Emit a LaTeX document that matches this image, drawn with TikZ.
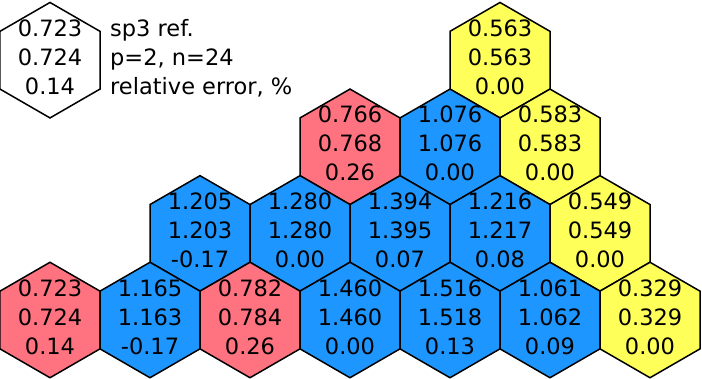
\documentclass[tikz,border=0pt]{standalone}
\usepackage{fontspec}
\setmainfont{DejaVu Sans}
\usetikzlibrary{shapes.geometric}
\definecolor{cred}{RGB}{255,115,128}
\definecolor{cblue}{RGB}{30,150,255}
\definecolor{cyel}{RGB}{255,255,90}
\tikzset{
  hexcell/.style={regular polygon, regular polygon sides=6, shape border rotate=30,
    minimum size=115.47pt, inner sep=0pt, outer sep=0pt, draw=black,
    line width=1.5pt, line join=miter},
  val/.style={anchor=base, inner sep=0pt, font=\fontsize{22.5}{26}\selectfont},
  leg/.style={anchor=base west, inner sep=0pt, font=\fontsize{22.5}{26}\selectfont}
}
\newcommand{\hexcell}[7]{%
  \node[hexcell, fill=#4] (#1) at (#2,#3) {};
  \node[val] (#1a) at ([yshift=24pt]#1.center) {#5};
  \node[val] (#1b) at ([yshift=-5pt]#1.center) {#6};
  \node[val] (#1c) at ([yshift=-34pt]#1.center) {#7};
}
\begin{document}
\begin{tikzpicture}[x=1pt,y=-1pt]
\useasboundingbox (0,0) rectangle (702,378);
% legend
\hexcell{L}{50}{60.2}{white}{0.723}{0.724}{0.14}
\node[leg] (l1) at ([xshift=60pt,yshift=24pt]L.center) {sp3 ref.};
\node[leg] (l2) at ([xshift=60pt,yshift=-5pt]L.center) {p=2, n=24};
\node[leg] (l3) at ([xshift=60pt,yshift=-34pt]L.center) {relative error, \%};
% row 4
\hexcell{T}{500}{60.2}{cyel}{0.563}{0.563}{0.00}
% row 3
\hexcell{Ca}{350}{146.8}{cred}{0.766}{0.768}{0.26}
\hexcell{Cb}{450}{146.8}{cblue}{1.076}{1.076}{0.00}
\hexcell{Cc}{550}{146.8}{cyel}{0.583}{0.583}{0.00}
% row 2
\hexcell{Ba}{200}{233.4}{cblue}{1.205}{1.203}{-0.17}
\hexcell{Bb}{300}{233.4}{cblue}{1.280}{1.280}{0.00}
\hexcell{Bc}{400}{233.4}{cblue}{1.394}{1.395}{0.07}
\hexcell{Bd}{500}{233.4}{cblue}{1.216}{1.217}{0.08}
\hexcell{Be}{600}{233.4}{cyel}{0.549}{0.549}{0.00}
% row 1
\hexcell{Aa}{50}{320}{cred}{0.723}{0.724}{0.14}
\hexcell{Ab}{150}{320}{cblue}{1.165}{1.163}{-0.17}
\hexcell{Ac}{250}{320}{cred}{0.782}{0.784}{0.26}
\hexcell{Ad}{350}{320}{cblue}{1.460}{1.460}{0.00}
\hexcell{Ae}{450}{320}{cblue}{1.516}{1.518}{0.13}
\hexcell{Af}{550}{320}{cblue}{1.061}{1.062}{0.09}
\hexcell{Ag}{650}{320}{cyel}{0.329}{0.329}{0.00}
\end{tikzpicture}
\end{document}
